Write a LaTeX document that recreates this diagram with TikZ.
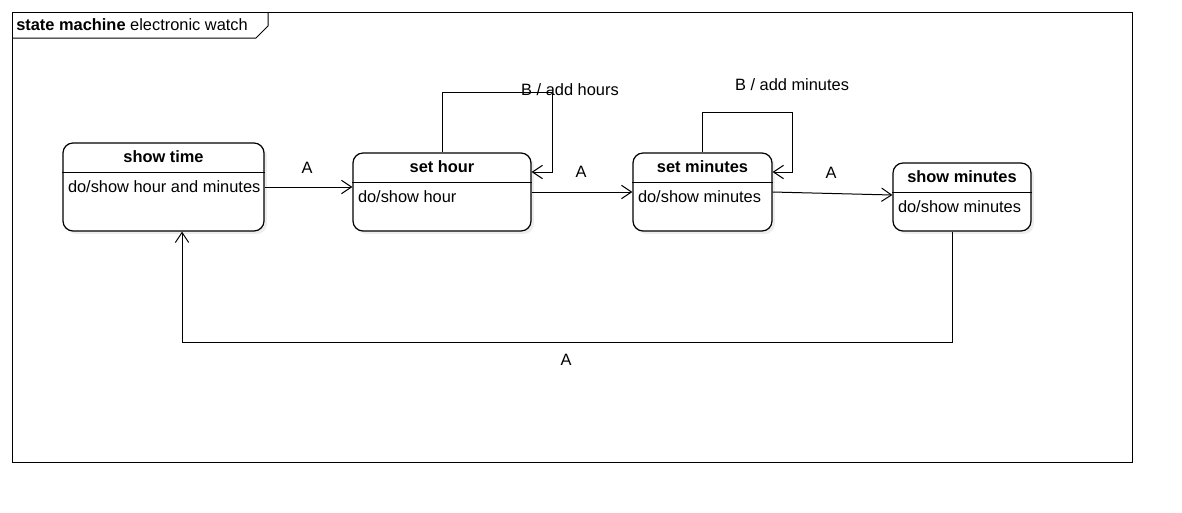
\documentclass[tikz,border=0pt]{standalone}
\usepackage{fontspec}
\setmainfont{Liberation Sans}
\usetikzlibrary{arrows.meta,shadows}
\begin{document}
\begin{tikzpicture}[x=0.75pt,y=-0.75pt,font=\fontsize{12.3pt}{14pt}\selectfont]
\tikzstyle{state} = [draw=black, line width=0.9pt, rounded corners=7.5pt, fill=white, drop shadow={shadow xshift=2.2pt, shadow yshift=-2.2pt, fill=black!7, opacity=1}]
\tikzstyle{trans} = [draw=black, line width=0.75pt, -{Straight Barb[length=7.5pt,width=10pt]}]
\tikzstyle{divider} = [draw=black, line width=0.75pt]
\tikzstyle{lbl} = [inner sep=0pt]

\useasboundingbox (0,0) rectangle (1182,512);

% frame
\draw[line width=0.75pt] (12,12) rectangle (1132,462);
\draw[line width=0.75pt] (12,38) -- (256,38) -- (268,26) -- (268,12);
\node[lbl, anchor=west] (frame) at (16,25) {\textbf{state machine} electronic watch};

% states
\node[state, minimum width=150.75pt, minimum height=66pt] (s1) at (163.5,187) {};
\node[state, minimum width=133.5pt, minimum height=58.5pt] (s2) at (442,192) {};
\node[state, minimum width=104.25pt, minimum height=58.5pt] (s3) at (702.5,192) {};
\node[state, minimum width=103.5pt, minimum height=51pt] (s4) at (962,197) {};

\draw[divider] ([yshift=-22.5pt]s1.north west) -- ([yshift=-22.5pt]s1.north east);
\draw[divider] ([yshift=-22.5pt]s2.north west) -- ([yshift=-22.5pt]s2.north east);
\draw[divider] ([yshift=-22.5pt]s3.north west) -- ([yshift=-22.5pt]s3.north east);
\draw[divider] ([yshift=-22.5pt]s4.north west) -- ([yshift=-22.5pt]s4.north east);

\node[lbl] (t1) at ([yshift=-11pt]s1.north) {\textbf{show time}};
\node[lbl] (t2) at ([yshift=-11pt]s2.north) {\textbf{set hour}};
\node[lbl] (t3) at ([yshift=-11pt]s3.north) {\textbf{set minutes}};
\node[lbl] (t4) at ([yshift=-11pt]s4.north) {\textbf{show minutes}};

\node[lbl, anchor=west] (b1) at ([xshift=4pt,yshift=-33.5pt]s1.north west) {do/show hour and minutes};
\node[lbl, anchor=west] (b2) at ([xshift=4pt,yshift=-33.5pt]s2.north west) {do/show hour};
\node[lbl, anchor=west] (b3) at ([xshift=4pt,yshift=-33.5pt]s3.north west) {do/show minutes};
\node[lbl, anchor=west] (b4) at ([xshift=4pt,yshift=-33.5pt]s4.north west) {do/show minutes};

% transitions
\draw[trans] (s1.east) -- (s2.west |- s1.east);
\draw[trans] (s2.east) -- (s3.west);
\draw[trans] (s3.east) -- ([yshift=1.5pt]s4.west);
\draw[trans] (s2.north) |- (552,92) |- (s2.east |- 0,172);
\draw[trans] (s3.north) |- (792,112) |- (s3.east |- 0,172);
\draw[trans] ([xshift=-7.5pt]s4.south) |- ([xshift=13.9pt]s1.south |- 0,342) -- ([xshift=13.9pt]s1.south);

\node[lbl] (a1) at (307,168) {A};
\node[lbl] (a2) at (581,172) {A};
\node[lbl] (a3) at (831,173) {A};
\node[lbl] (a4) at (566,360) {A};
\node[lbl] (h1) at (570,90) {B / add hours};
\node[lbl] (h2) at (792,85) {B / add minutes};
\end{tikzpicture}
\end{document}
